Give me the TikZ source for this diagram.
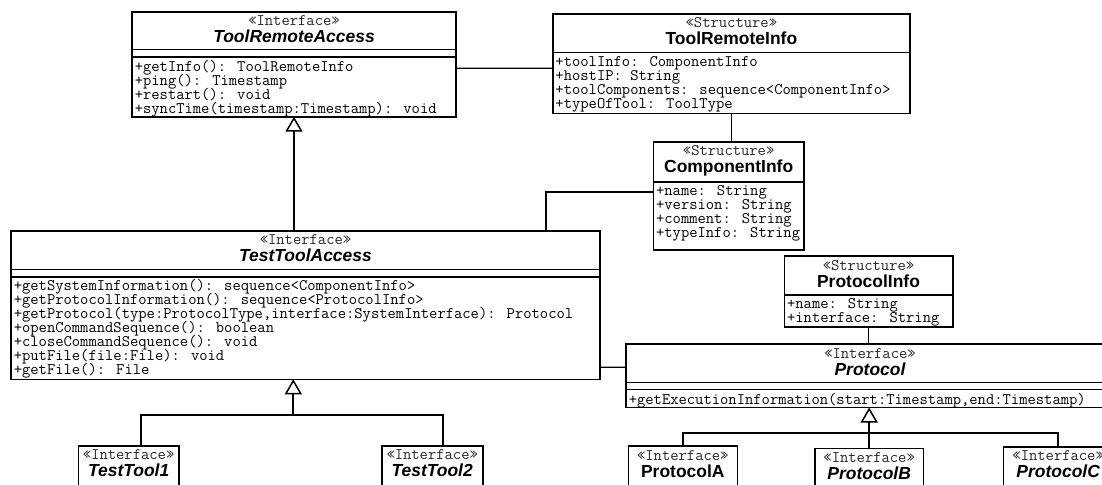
\documentclass[tikz,border=0pt]{standalone}
\usepackage{fontspec}
\setmainfont{Liberation Sans}
\usetikzlibrary{arrows.meta,calc}

\newcommand\umltt{\ttfamily\fontsize{12.1}{14}\selectfont}
\tikzset{
  classbox/.style={draw, rectangle, line width=1.2pt, fill=white, inner sep=0pt, outer sep=0pt},
  separator/.style={line width=1.2pt},
  stereo/.style={font=\umltt, text=black!85, inner sep=0pt, anchor=base},
  plainname/.style={font=\fontsize{13.1}{15}\selectfont\bfseries, inner sep=0pt, anchor=base},
  italname/.style={font=\fontsize{13.1}{15}\selectfont\bfseries\itshape, inner sep=0pt, anchor=base},
  member/.style={font=\umltt, inner sep=0pt, anchor=base west},
  assoc/.style={line width=1pt},
  gen/.style={line width=1.4pt},
  genhead/.style={-{Triangle[open, length=11.25pt, width=12.75pt, line width=1.1pt]}},
}

% class frame: name, left, top, right, bottom (units are px, y grows downward)
\newcommand\umlbox[5]{%
  \node[classbox, minimum width={(#4-(#2))*0.75pt}, minimum height={(#5-(#3))*0.75pt}]
    (#1) at ({(#2+#4)/2},{(#3+#5)/2}) {};}
% header: frame, stereotype, class name, name style
\newcommand\umlhead[4]{%
  \node[stereo] (#1-st) at ($(#1.north)+(0,14)$) {«#2»};
  \node[#4] (#1-nm) at ($(#1.north)+(0,31)$) {#3};}
% compartment line at a given distance below the top
\newcommand\umlsep[2]{%
  \draw[separator] ($(#1.north west)+(0,#2)$) -- ($(#1.north east)+(0,#2)$);}
% members: frame, first baseline offset, line step, list of lines
\newcommand\umlmembers[4]{%
  \foreach \memtext [count=\memi] in {#4}{%
    \node[member] (#1-m\memi) at ($(#1.north west)+(2.5,{#2+(\memi-1)*#3})$) {\memtext};}}

\begin{document}
\begin{tikzpicture}[x=0.75pt,y=-0.75pt]
\useasboundingbox (0,0) rectangle (1102,485);
\clip (0,0) rectangle (1102,485);
\fill[white] (0,0) rectangle (1102,485);

% ToolRemoteAccess
\umlbox{TRA}{132}{12}{456}{116.7}
\umlhead{TRA}{Interface}{ToolRemoteAccess}{italname}
\umlsep{TRA}{37.5}
\umlsep{TRA}{45}
\umlmembers{TRA}{59.5}{14}{+getInfo(): ToolRemoteInfo,+ping(): Timestamp,+restart(): void,+syncTime(timestamp:Timestamp): void}

% ToolRemoteInfo
\umlbox{TRI}{552.7}{14}{910}{113.3}
\umlhead{TRI}{Structure}{ToolRemoteInfo}{plainname}
\umlsep{TRI}{38.7}
\umlmembers{TRI}{52.5}{14}{+toolInfo: ComponentInfo,+hostIP: String,+toolComponents: sequence<ComponentInfo>,+typeOfTool: ToolType}

% ComponentInfo
\umlbox{CI}{653.3}{141.7}{804}{250}
\umlhead{CI}{Structure}{ComponentInfo}{plainname}
\umlsep{CI}{40}
\umlmembers{CI}{53.5}{14}{+name: String,+version: String,+comment: String,+typeInfo: String}

% TestToolAccess
\umlbox{TTA}{11}{230.7}{600}{379.3}
\umlhead{TTA}{Interface}{TestToolAccess}{italname}
\umlsep{TTA}{38.6}
\umlsep{TTA}{46}
\umlmembers{TTA}{60}{14}{+getSystemInformation(): sequence<ComponentInfo>,+getProtocolInformation(): sequence<ProtocolInfo>,{+getProtocol(type:ProtocolType,interface:SystemInterface): Protocol},+openCommandSequence(): boolean,+closeCommandSequence(): void,+putFile(file:File): void,+getFile(): File}

% ProtocolInfo
\umlbox{PI}{784.3}{256}{952.7}{326.7}
\umlhead{PI}{Structure}{ProtocolInfo}{plainname}
\umlsep{PI}{39}
\umlmembers{PI}{52}{14.5}{+name: String,+interface: String}

% Protocol
\umlbox{PR}{626}{344}{1114}{407.5}
\umlhead{PR}{Interface}{Protocol}{italname}
\umlsep{PR}{38.3}
\umlsep{PR}{45.5}
\umlmembers{PR}{60.5}{14}{{+getExecutionInformation(start:Timestamp,end:Timestamp)}}

% specialised interfaces
\umlbox{TT1}{78.3}{445.7}{179}{500}
\umlhead{TT1}{Interface}{TestTool1}{italname}
\umlbox{TT2}{381.7}{445.7}{482.7}{500}
\umlhead{TT2}{Interface}{TestTool2}{italname}
\umlbox{PA}{628.3}{446}{737.3}{500}
\umlhead{PA}{Interface}{ProtocolA}{plainname}
\umlbox{PB}{815}{448.3}{923.3}{500}
\umlhead{PB}{Interface}{ProtocolB}{italname}
\umlbox{PC}{1003.3}{446.7}{1113}{500}
\umlhead{PC}{Interface}{ProtocolC}{italname}

% associations
\draw[assoc] ($(TRA.north east)+(0,56.3)$) -- ($(TRI.north west)+(0,54.3)$);
\draw[assoc] (TRI.south) -- (CI.north -| TRI.south);
\draw[assoc] ($(CI.north west)+(0,50.3)$) -| ($(TTA.north west)+(535,0)$);
\draw[assoc] ($(TTA.north east)+(0,136.6)$) -- ($(PR.north west)+(0,23.3)$);
\draw[assoc] (PI.south) -- (PR.north -| PI.south);

% generalisations
\draw[gen, genhead] (TTA.north -| TRA.south) -- (TRA.south);

\coordinate (tj) at ($(TTA.south west)+(282.3,35.7)$);
\draw[gen, genhead] (tj) -- (tj |- TTA.south);
\draw[gen] ($(TT1.north west)+(62.7,0)$) |- (tj) -| ($(TT2.north west)+(61.6,0)$);

\coordinate (pj) at ($(PB.north)+(0,-15)$);
\draw[gen, genhead] (PB.north) -- (PB.north |- PR.south);
\draw[gen] (PA.north) |- (pj) -| (PC.north);
\end{tikzpicture}
\end{document}
